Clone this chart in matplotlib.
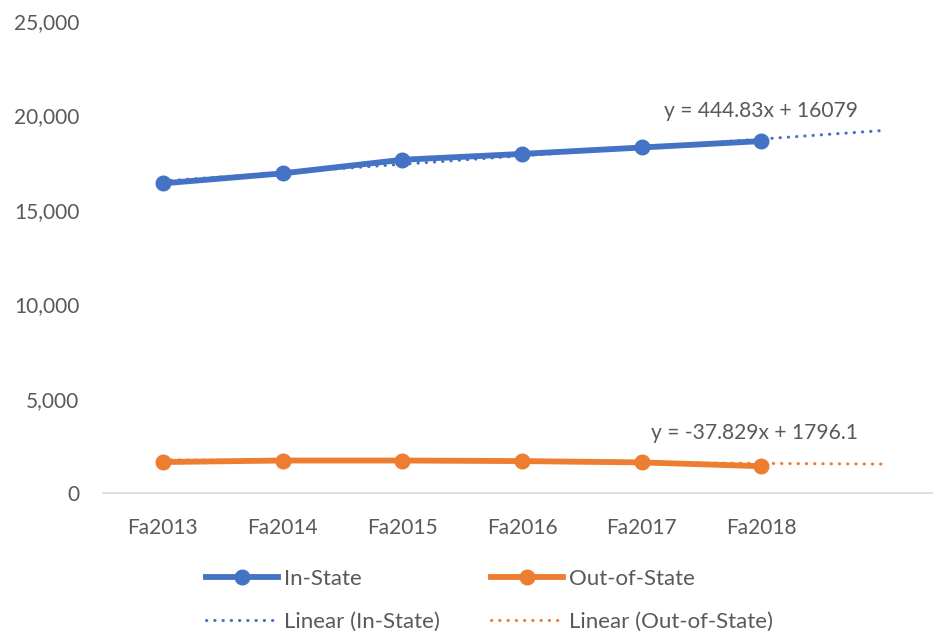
import matplotlib
matplotlib.use("Agg")
import matplotlib.pyplot as plt
import numpy as np
from matplotlib.ticker import FuncFormatter

categories = ["Fa2013", "Fa2014", "Fa2015", "Fa2016", "Fa2017", "Fa2018"]
in_state = [16400, 16930, 17650, 17960, 18300, 18640]
out_state = [1640, 1720, 1720, 1690, 1620, 1420]
in_trend = (444.83, 16079)
out_trend = (-37.829, 1796.1)
in_label = "y = 444.83x + 16079"
out_label = "y = -37.829x + 1796.1"

BLUE = "#4472C4"
ORANGE = "#ED7D31"
GRAY = "#595959"

plt.rcParams['font.family'] = ['Lato', 'DejaVu Sans']

fig = plt.figure(figsize=(9.33, 6.35), dpi=100)
W, H = 933, 635
left, right, top, bottom = 103, 941, 21, 493
ax = fig.add_axes([left / W, (H - bottom) / H, (right - left) / W, (bottom - top) / H])

x = np.arange(1, len(categories) + 1)
xt = np.arange(1, len(categories) + 2)

ax.plot(x, in_state, color=BLUE, lw=4.2, marker='o', ms=10.5, label="In-State", zorder=3)
ax.plot(xt, in_trend[0] * xt + in_trend[1], color=BLUE, lw=2.2,
        linestyle=(0, (0.1, 2.6)), dash_capstyle='round', label="Linear (In-State)", zorder=4)
ax.plot(x, out_state, color=ORANGE, lw=4.2, marker='o', ms=10.5, label="Out-of-State", zorder=3)
ax.plot(xt, out_trend[0] * xt + out_trend[1], color=ORANGE, lw=2.2,
        linestyle=(0, (0.1, 2.6)), dash_capstyle='round', label="Linear (Out-of-State)", zorder=4)

ax.set_xlim(0.5, 7.5)
ax.set_ylim(0, 25000)
ax.set_yticks(np.arange(0, 25001, 5000))
ax.yaxis.set_major_formatter(FuncFormatter(lambda v, p: f"{int(v):,}"))
ax.set_xticks(x)
ax.set_xticklabels(categories)

for s in ["top", "right", "left"]:
    ax.spines[s].set_visible(False)
ax.spines["bottom"].set_color("#D9D9D9")
ax.spines["bottom"].set_linewidth(1.2)
ax.tick_params(axis='both', length=0, labelsize=15, labelcolor=GRAY)
ax.tick_params(axis='y', pad=17)
ax.tick_params(axis='x', pad=18)

ax.text(5.19, 20230, in_label, fontsize=15.1, color=GRAY, va='center', ha='left')
ax.text(5.08, 3180, out_label, fontsize=15.1, color=GRAY, va='center', ha='left')

handles, labels = ax.get_legend_handles_labels()
leg = fig.legend(handles, labels,
                 ncol=2, frameon=False, fontsize=16, labelcolor=GRAY,
                 loc='center left', bbox_to_anchor=(206 / W, 1 - 600.5 / H),
                 borderaxespad=0, borderpad=0,
                 handlelength=3.25, handletextpad=0.27, columnspacing=2.3,
                 labelspacing=1.05)

fig.savefig("out.png", dpi=100)
